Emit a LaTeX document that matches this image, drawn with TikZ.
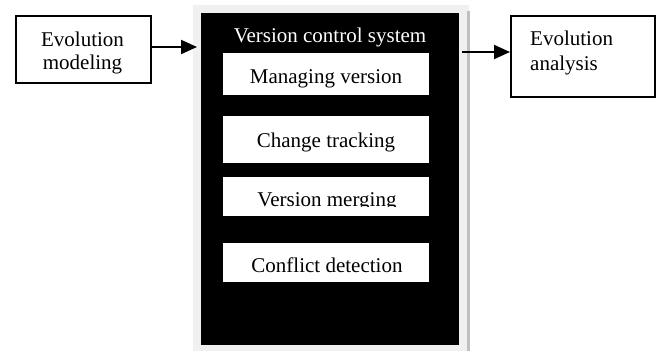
\documentclass[tikz,border=0pt]{standalone}
\usepackage{fontspec}
\setmainfont{Liberation Serif}
\usetikzlibrary{arrows.meta}
\definecolor{framegray}{RGB}{240,240,240}
\definecolor{edgegray}{RGB}{192,192,192}
\tikzset{
  txt/.style={inner sep=0pt, anchor=base, font=\fontsize{21}{24}\selectfont},
  outbox/.style={draw=black, line width=1.5pt, fill=white, inner sep=0pt},
  inbox/.style={fill=white, draw=none, inner sep=0pt},
  arr/.style={line width=2pt, -{Triangle[length=16pt,width=14pt]}}
}
\begin{document}
\begin{tikzpicture}[x=1pt,y=-1pt]
\useasboundingbox (0,0) rectangle (658,351);
% frame and black panel
\node[fill=framegray, draw=none, inner sep=0pt, minimum width=276pt, minimum height=346pt, anchor=north west] (frame) at (193,5) {};
\fill[edgegray] (467,11) rectangle (470,351);
\node[fill=black, draw=none, inner sep=0pt, minimum width=258pt, minimum height=332pt, anchor=north west] (vcs) at (201,13) {};
\node[txt, text=white] (vcst) at (330,42) {Version control system};
% inner boxes
\node[inbox, minimum width=206pt, minimum height=42pt, anchor=north west] (b1) at (223,53) {};
\node[txt] (b1t) at (326,83) {Managing version};
\node[inbox, minimum width=206pt, minimum height=47pt, anchor=north west] (b2) at (223,116) {};
\node[txt] (b2t) at (326,147) {Change tracking};
\node[inbox, minimum width=206pt, minimum height=39pt, anchor=north west] (b3) at (223,177) {};
\begin{scope}
\clip (223,177) rectangle (429,206.5);
\node[txt] (b3t) at (327,206.5) {Version merging};
\end{scope}
\node[inbox, minimum width=206pt, minimum height=39pt, anchor=north west] (b4) at (223,243) {};
\node[txt] (b4t) at (327,272) {Conflict detection};
% left box
\node[outbox, minimum width=135pt, minimum height=67pt, anchor=north west] (lm) at (15,15) {};
\node[txt] (lm1) at (82.5,46) {Evolution};
\node[txt] (lm2) at (82.5,69) {modeling};
% right box
\node[outbox, line width=2pt, minimum width=144pt, minimum height=81pt, anchor=north west] (ra) at (510,15) {};
\node[txt, anchor=base west] (ra1) at (530,45) {Evolution};
\node[txt, anchor=base west] (ra2) at (530,70) {analysis};
% arrows
\coordinate (lin) at ([xshift=4pt]frame.west |- 0,47);
\draw[arr] (lm.east |- 0,47) -- (lin);
\coordinate (rout) at ([xshift=3pt]vcs.east |- 0,52);
\draw[arr] (rout) -- (ra.west |- 0,52);
\end{tikzpicture}
\end{document}
